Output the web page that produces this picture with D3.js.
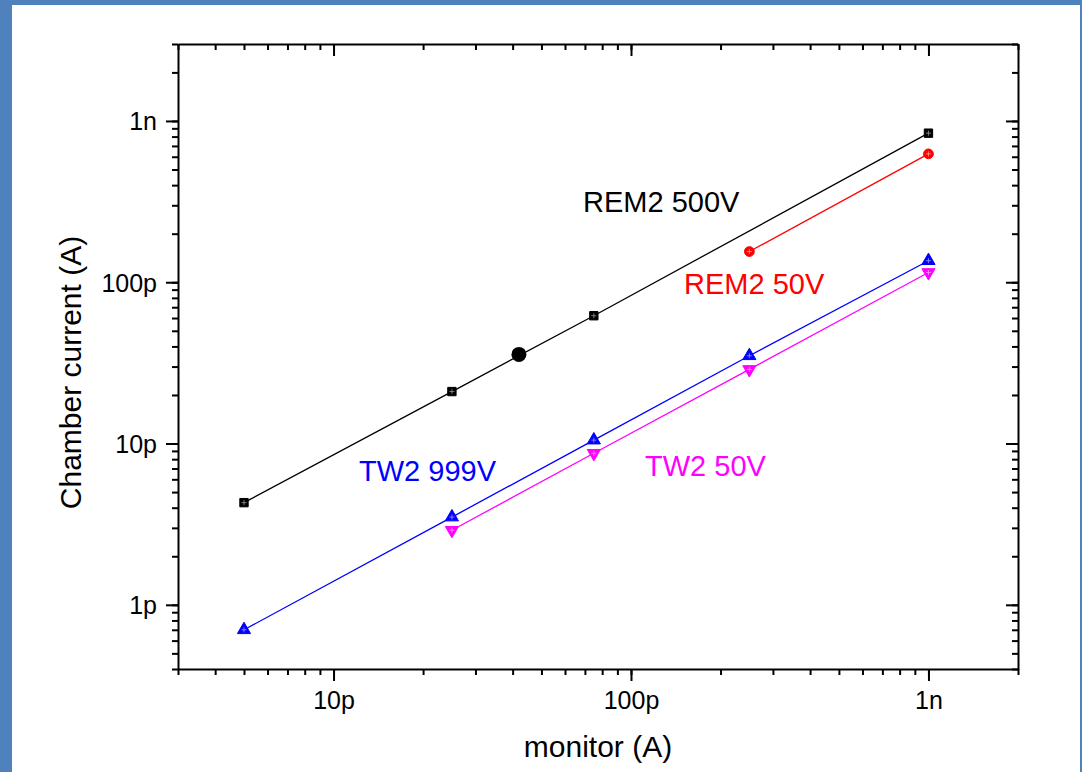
<!doctype html>
<meta charset="utf-8">
<style>
body { margin: 0; background: #fff; }
#frame {
    position: relative;
    width: 1082px;
    height: 772px;
    box-sizing: border-box;
    border-left: 12px solid #4f81bd;
    border-top: 5px solid #4f81bd;
    border-right: 2px solid #4f81bd;
    background: #fff;
}
svg { position: absolute; left: -12px; top: -5px; font-family: "Liberation Sans", Arial, sans-serif; }
.axis path, .axis line { stroke: #000; stroke-width: 2; }
.axis text { font-size: 25px; fill: #000; }
.minor path { display: none; }
.series-line { fill: none; stroke-width: 1.3; }
.lbl { font-size: 29px; }
.title { font-size: 30px; fill: #000; }
</style>
<div id="frame"></div>
<script src="https://cdn.jsdelivr.net/npm/d3@7"></script>
<script>
// series values (amps)
var rem500X = [5e-12, 25e-12, 75e-12, 1e-9];
var rem500Y = [4.3e-12, 21e-12, 62e-12, 0.84e-9];
var rem50X = [250e-12, 1e-9];
var rem50Y = [155e-12, 0.625e-9];
var tw999X = [5e-12, 25e-12, 75e-12, 250e-12, 1e-9];
var tw999Y = [0.70e-12, 3.5e-12, 10.5e-12, 35e-12, 136e-12];
var tw50X = [25e-12, 75e-12, 250e-12, 1e-9];
var tw50Y = [2.9e-12, 8.7e-12, 28.8e-12, 115e-12];
var markX = [42e-12];
var markY = [35.7e-12];

var xMajor = [10e-12, 100e-12, 1e-9];
var yMajor = [1e-12, 10e-12, 100e-12, 1e-9];
var tickNames = ['1p', '10p', '100p', '1n'];
</script>
<script>
var width = 1082;
var height = 772;
var margin = {left: 178, top: 44, right: 64, bottom: 103};
var pw = width - margin.left - margin.right;
var ph = height - margin.top - margin.bottom;

var svg = d3.select('#frame').append('svg')
    .attr('width', width)
    .attr('height', height);

var x = d3.scaleLog().domain([3e-12, 2e-9]).range([margin.left, margin.left + pw]);
var y = d3.scaleLog().domain([4e-13, 3e-9]).range([margin.top + ph, margin.top]);

// 1..9 x each decade, kept inside the domain
function minorTicks (scale) {
    var d = scale.domain(), out = [];
    for (var e = -14; e <= -8; e++) {
        for (var m = 1; m < 10; m++) {
            var v = m * Math.pow(10, e);
            if (v >= d[0] * 0.999 && v <= d[1] * 1.001) out.push(v);
        }
    }
    return out;
}
// label by decade: 1e-12 -> 1p ... 1e-9 -> 1n
function fmt (v) {
    return tickNames[Math.round(Math.log10(v)) + 12] || '';
}
function blank () { return ''; }

var plot = svg.append('g');

function drawAxis (gen, scale, ticks, size, fmtFn, transform, minor) {
    var a = gen(scale).tickValues(ticks).tickSizeInner(size).tickSizeOuter(0)
        .tickFormat(fmtFn);
    return plot.append('g').attr('class', 'axis' + (minor ? ' minor' : ''))
        .attr('transform', transform).call(a);
}

var xm = minorTicks(x), ym = minorTicks(y);
var bottomT = 'translate(0,' + (margin.top + ph) + ')';
var topT = 'translate(0,' + margin.top + ')';
var leftT = 'translate(' + margin.left + ',0)';
var rightT = 'translate(' + (margin.left + pw) + ',0)';

// minor ticks first, outward on bottom/left, inward on top/right
drawAxis(d3.axisBottom, x, xm, 6, blank, bottomT, true);
drawAxis(d3.axisLeft, y, ym, 6, blank, leftT, true);
drawAxis(d3.axisTop, x, xm, -6, blank, topT, true);
drawAxis(d3.axisRight, y, ym, -6, blank, rightT, true);

var xb = drawAxis(d3.axisBottom, x, xMajor, 12, fmt, bottomT);
xb.selectAll('text').attr('y', 22).attr('dy', '0.71em');
var yl = drawAxis(d3.axisLeft, y, yMajor, 12, fmt, leftT);
yl.selectAll('text').attr('x', -21).attr('dy', '0.36em');
drawAxis(d3.axisTop, x, xMajor, -12, blank, topT);
drawAxis(d3.axisRight, y, yMajor, -12, blank, rightT);

// series
function series (xs, ys, color, shape, size, flip) {
    var pts = xs.map(function (v, i) { return [v, ys[i]]; });
    var line = d3.line().x(function (d) { return x(d[0]); }).y(function (d) { return y(d[1]); });
    plot.append('path').datum(pts).attr('class', 'series-line')
        .attr('stroke', color).attr('d', line);
    plot.selectAll(null).data(pts).enter().append('path')
        .attr('transform', function (d) {
            return 'translate(' + x(d[0]) + ',' + y(d[1]) + ')' + (flip ? ' rotate(180)' : '');
        })
        .attr('d', d3.symbol().type(shape).size(size))
        .attr('fill', color)
        .attr('stroke', color)
        .attr('stroke-width', 1);
    // light hatch across each marker
    plot.selectAll(null).data(pts).enter().append('path')
        .attr('d', function (d) {
            var cx = x(d[0]), cy = y(d[1]);
            return 'M' + (cx - 2.5) + ',' + cy + 'H' + (cx + 2.5) + 'M' + cx + ',' + (cy - 2.5) + 'V' + (cy + 2.5);
        })
        .attr('stroke', '#fff').attr('stroke-width', 0.8).attr('opacity', 0.6);
}

series(rem500X, rem500Y, '#000', d3.symbolSquare, 70);
series(rem50X, rem50Y, '#ff0000', d3.symbolCircle, 75);
series(tw999X, tw999Y, '#0000ff', d3.symbolTriangle, 75);
series(tw50X, tw50Y, '#ff00ff', d3.symbolTriangle, 75, true);

plot.selectAll(null).data(markX.map(function (v, i) { return [v, markY[i]]; })).enter()
    .append('circle')
    .attr('cx', function (d) { return x(d[0]); })
    .attr('cy', function (d) { return y(d[1]); })
    .attr('r', 7.5)
    .attr('fill', '#000');

// series labels
var labels = [
    {t: 'REM2 500V', c: '#000', x: 583, y: 212},
    {t: 'REM2 50V', c: '#ff0000', x: 684, y: 294},
    {t: 'TW2 999V', c: '#0000ff', x: 359, y: 481},
    {t: 'TW2 50V', c: '#ff00ff', x: 645, y: 476}
];
plot.selectAll('text.lbl').data(labels).enter().append('text')
    .attr('class', 'lbl')
    .attr('x', function (d) { return d.x; })
    .attr('y', function (d) { return d.y; })
    .attr('fill', function (d) { return d.c; })
    .text(function (d) { return d.t; });

// axis titles
svg.append('text').attr('class', 'title')
    .attr('text-anchor', 'middle')
    .attr('transform', 'translate(81,' + (margin.top + ph / 2 + 16) + ') rotate(-90)')
    .text('Chamber current (A)');
svg.append('text').attr('class', 'title')
    .attr('text-anchor', 'middle')
    .attr('x', margin.left + pw / 2)
    .attr('y', 757)
    .text('monitor (A)');
</script>
